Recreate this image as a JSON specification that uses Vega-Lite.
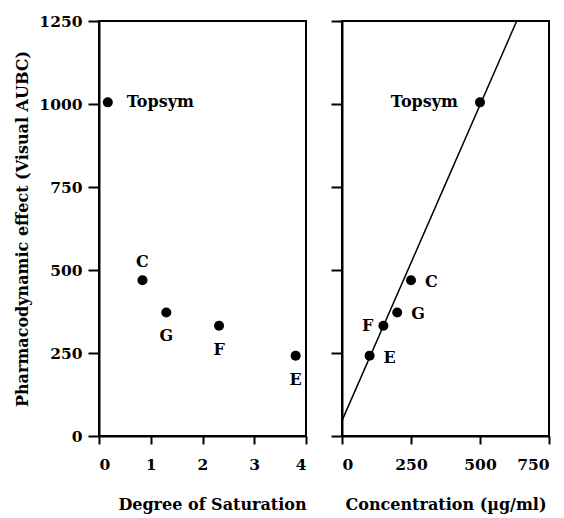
{
  "$schema": "https://vega.github.io/schema/vega-lite/v6.json",
  "background": "white",
  "padding": {"left": 13, "top": 13, "right": 10, "bottom": 0},
  "config": {
    "font": "DejaVu Serif",
    "view": {"stroke": "black", "strokeWidth": 2},
    "axis": {
      "domainColor": "black", "domainWidth": 2,
      "tickColor": "black", "tickWidth": 2,
      "labelColor": "black", "labelFont": "DejaVu Serif", "labelFontSize": 15.5, "labelFontWeight": "bold",
      "titleColor": "black", "titleFont": "DejaVu Serif", "titleFontSize": 16, "titleFontWeight": "bold",
      "grid": false, "format": "d"
    },
    "text": {"font": "DejaVu Serif", "fontSize": 16, "fontWeight": "bold", "color": "black"}
  },
  "datasets": {
    "products": [
      {"product": "Topsym", "saturation": 0.17, "concentration": 500, "effect": 1005},
      {"product": "C", "saturation": 0.84, "concentration": 250, "effect": 469},
      {"product": "G", "saturation": 1.3, "concentration": 200, "effect": 372},
      {"product": "F", "saturation": 2.32, "concentration": 150, "effect": 332},
      {"product": "E", "saturation": 3.8, "concentration": 100, "effect": 242}
    ],
    "fit": [
      {"concentration": 0, "effect": 46},
      {"concentration": 633, "effect": 1250}
    ]
  },
  "spacing": 21,
  "hconcat": [
    {
      "width": 207,
      "height": 415,
      "data": {"name": "products"},
      "encoding": {
        "x": {"field": "saturation", "type": "quantitative",
              "scale": {"domain": [0, 4], "nice": false},
              "axis": {"values": [0, 1, 2, 3, 4], "title": "Degree of Saturation", "titleX": 113, "tickSize": 8, "labelPadding": 13, "titlePadding": 24}},
        "y": {"field": "effect", "type": "quantitative",
              "scale": {"domain": [0, 1250], "nice": false},
              "axis": {"values": [0, 250, 500, 750, 1000, 1250], "title": "Pharmacodynamic effect (Visual AUBC)", "tickSize": 11, "labelPadding": 6, "titlePadding": 8}}
      },
      "layer": [
        {"mark": {"type": "point", "filled": true, "shape": "circle", "size": 100, "color": "black", "opacity": 1}},
        {"transform": [{"filter": "datum.product === 'Topsym'"}],
         "mark": {"type": "text", "align": "left", "baseline": "middle", "dx": 19},
         "encoding": {"text": {"field": "product"}}},
        {"transform": [{"filter": "datum.product === 'C'"}],
         "mark": {"type": "text", "align": "center", "baseline": "middle", "dy": -18},
         "encoding": {"text": {"field": "product"}}},
        {"transform": [{"filter": "indexof(['G', 'F', 'E'], datum.product) >= 0"}],
         "mark": {"type": "text", "align": "center", "baseline": "middle", "dy": 24},
         "encoding": {"text": {"field": "product"}}}
      ]
    },
    {
      "width": 207,
      "height": 415,
      "encoding": {
        "x": {"field": "concentration", "type": "quantitative",
              "scale": {"domain": [0, 750], "nice": false},
              "axis": {"values": [0, 250, 500, 750], "title": "Concentration (µg/ml)", "tickSize": 8, "labelPadding": 13, "titlePadding": 24}},
        "y": {"field": "effect", "type": "quantitative",
              "scale": {"domain": [0, 1250], "nice": false},
              "axis": {"values": [0, 250, 500, 750, 1000, 1250], "labels": false, "title": null, "tickSize": 11}}
      },
      "layer": [
        {"data": {"name": "fit"},
         "mark": {"type": "line", "color": "black", "strokeWidth": 1.5, "clip": true}},
        {"data": {"name": "products"},
         "mark": {"type": "point", "filled": true, "shape": "circle", "size": 100, "color": "black", "opacity": 1}},
        {"data": {"name": "products"},
         "transform": [{"filter": "datum.product === 'Topsym'"}],
         "mark": {"type": "text", "align": "right", "baseline": "middle", "dx": -22},
         "encoding": {"text": {"field": "product"}}},
        {"data": {"name": "products"},
         "transform": [{"filter": "datum.product === 'F'"}],
         "mark": {"type": "text", "align": "right", "baseline": "middle", "dx": -10},
         "encoding": {"text": {"field": "product"}}},
        {"data": {"name": "products"},
         "transform": [{"filter": "indexof(['C', 'G', 'E'], datum.product) >= 0"}],
         "mark": {"type": "text", "align": "left", "baseline": "middle", "dx": 14, "dy": 2},
         "encoding": {"text": {"field": "product"}}}
      ]
    }
  ]
}
